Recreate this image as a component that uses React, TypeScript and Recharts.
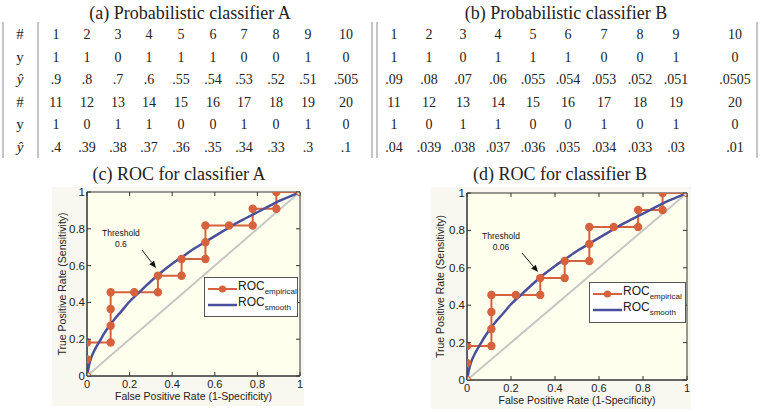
import React from 'react';
import { LineChart, Line, XAxis, YAxis, ReferenceArea, ReferenceLine, Legend, CartesianGrid } from 'recharts';

// ---------- table data ----------
const ids1 = ['1', '2', '3', '4', '5', '6', '7', '8', '9', '10'];
const ids2 = ['11', '12', '13', '14', '15', '16', '17', '18', '19', '20'];
const labels1 = ['1', '1', '0', '1', '1', '1', '0', '0', '1', '0'];
const labels2 = ['1', '0', '1', '1', '0', '0', '1', '0', '1', '0'];
const scoresA1 = ['.9', '.8', '.7', '.6', '.55', '.54', '.53', '.52', '.51', '.505'];
const scoresA2 = ['.4', '.39', '.38', '.37', '.36', '.35', '.34', '.33', '.3', '.1'];
const scoresB1 = ['.09', '.08', '.07', '.06', '.055', '.054', '.053', '.052', '.051', '.0505'];
const scoresB2 = ['.04', '.039', '.038', '.037', '.036', '.035', '.034', '.033', '.03', '.01'];
const rowHeads = ['#', 'y', 'ŷ', '#', 'y', 'ŷ'];

// ---------- ROC data ----------
const empFpr = [0, 0, 0, 0.111, 0.111, 0.111, 0.111, 0.222, 0.333, 0.333, 0.444, 0.444, 0.556, 0.556, 0.556, 0.667, 0.778, 0.778, 0.889, 0.889, 1];
const empTpr = [0, 0.091, 0.182, 0.182, 0.273, 0.364, 0.455, 0.455, 0.455, 0.545, 0.545, 0.636, 0.636, 0.727, 0.818, 0.818, 0.818, 0.909, 0.909, 1, 1];
const smoothFpr = [0, 0.01, 0.02, 0.04, 0.06, 0.08, 0.1, 0.13, 0.16, 0.2, 0.25, 0.3, 0.35, 0.4, 0.45, 0.5, 0.55, 0.6, 0.65, 0.7, 0.75, 0.8, 0.85, 0.9, 0.95, 1];
const smoothTpr = [0, 0.06, 0.1, 0.15, 0.19, 0.23, 0.265, 0.31, 0.35, 0.405, 0.46, 0.515, 0.565, 0.61, 0.65, 0.69, 0.725, 0.76, 0.795, 0.83, 0.86, 0.89, 0.92, 0.95, 0.975, 1];
const diagFpr = [0, 1];
const diagTpr = [0, 1];
const axisTicks = [0, 0.2, 0.4, 0.6, 0.8, 1];

const empData = empFpr.map((x, i) => ({ x, y: empTpr[i] }));
const smoothData = smoothFpr.map((x, i) => ({ x, y: smoothTpr[i] }));
const diagData = diagFpr.map((x, i) => ({ x, y: diagTpr[i] }));

const ORANGE = '#d6623d';
const BLUE = '#4a4f9c';
const GRAY = '#c6c6c6';
const SANS = 'Liberation Sans, Arial, sans-serif';
const SERIF = 'Liberation Serif, Times New Roman, serif';

// ---------- table layout ----------
const rowY = [34, 57, 79, 102, 124, 147];
const colA = [56, 87, 118, 149, 181, 213, 244, 276, 308, 346];
const colB = [394, 429, 463, 498, 533, 568, 604, 640, 676, 735];

function Tables() {
  const rowsA = [ids1, labels1, scoresA1, ids2, labels2, scoresA2];
  const rowsB = [ids1, labels1, scoresB1, ids2, labels2, scoresB2];
  return (
    <svg width={760} height={412} style={{ position: 'absolute', left: 0, top: 0 }}>
      <rect x={0} y={0} width={760} height={412} fill="#ffffff" />
      <rect x={52} y={187} width={252} height={219} fill="#f8f8f0" />
      <rect x={431} y={187} width={260} height={222} fill="#f8f8f0" />
      <text x={190} y={19} textAnchor="middle" fontFamily={SERIF} fontSize={18} fill="#222">(a) Probabilistic classifier A</text>
      <text x={566} y={19} textAnchor="middle" fontFamily={SERIF} fontSize={18} fill="#222">(b) Probabilistic classifier B</text>
      <text x={179} y={180} textAnchor="middle" fontFamily={SERIF} fontSize={18} fill="#222">(c) ROC for classifier A</text>
      <text x={560} y={180} textAnchor="middle" fontFamily={SERIF} fontSize={18} fill="#222">(d) ROC for classifier B</text>
      {[3, 38, 372, 377, 757].map((x) => (
        <line key={x} x1={x} y1={22} x2={x} y2={158} stroke="#8a8a8a" strokeWidth={1} />
      ))}
      {rowHeads.map((h, r) => (
        <text key={'h' + r} x={20} y={rowY[r]} dominantBaseline="central" textAnchor="middle"
          fontFamily={SERIF} fontSize={15} fontStyle={h === 'ŷ' ? 'italic' : 'normal'} fill="#222">{h}</text>
      ))}
      {rowsA.map((row, r) => row.map((v, c) => (
        <text key={'a' + r + '-' + c} x={colA[c]} y={rowY[r]} dominantBaseline="central" textAnchor="middle"
          fontFamily={SERIF} fontSize={14} fill="#222">{v}</text>
      )))}
      {rowsB.map((row, r) => row.map((v, c) => (
        <text key={'b' + r + '-' + c} x={colB[c]} y={rowY[r]} dominantBaseline="central" textAnchor="middle"
          fontFamily={SERIF} fontSize={14} fill="#222">{v}</text>
      )))}
    </svg>
  );
}

const fmt = (v: number) => String(v);

const makeXTick = (plotH: number) => (props: any) => {
  const { x, y, payload } = props;
  return (
    <g>
      <line x1={x} y1={y} x2={x} y2={y - 4} stroke="#333" />
      <line x1={x} y1={y - plotH} x2={x} y2={y - plotH + 4} stroke="#333" />
      <text x={x} y={y + 12} textAnchor="middle" fontSize={11} fill="#222" fontFamily={SANS}>{fmt(payload.value)}</text>
    </g>
  );
};

const makeYTick = (plotW: number) => (props: any) => {
  const { x, y, payload } = props;
  return (
    <g>
      <line x1={x} y1={y} x2={x + 4} y2={y} stroke="#333" />
      <line x1={x + plotW} y1={y} x2={x + plotW - 4} y2={y} stroke="#333" />
      <text x={x - 2} y={y + 4} textAnchor="end" fontSize={11.5} fill="#222" fontFamily={SANS}>{fmt(payload.value)}</text>
    </g>
  );
};

const makeArrow = (label2: string) => (p: any) => {
  const { x1, y1, x2, y2 } = p;
  const ang = Math.atan2(y2 - y1, x2 - x1);
  const L = 7, W = 3;
  const bx = x2 - L * Math.cos(ang), by = y2 - L * Math.sin(ang);
  const pts = `${x2},${y2} ${bx - W * Math.sin(ang)},${by + W * Math.cos(ang)} ${bx + W * Math.sin(ang)},${by - W * Math.cos(ang)}`;
  return (
    <g>
      <line x1={x1} y1={y1} x2={bx} y2={by} stroke="#111" strokeWidth={1} />
      <polygon points={pts} fill="#111" />
      <text x={x1 - 21} y={y1 - 14} textAnchor="middle" fontSize={8.5} fontFamily={SANS} fill="#111">Threshold</text>
      <text x={x1 - 21} y={y1 - 3} textAnchor="middle" fontSize={8.5} fontFamily={SANS} fill="#111">{label2}</text>
    </g>
  );
};

const empDot = (props: any) => {
  const { cx, cy, index } = props;
  const hollow = index === 0 || index === empData.length - 1;
  return (
    <circle key={'dot' + index} cx={cx} cy={cy} r={3.6}
      fill={hollow ? '#fbece6' : ORANGE} stroke={ORANGE} strokeWidth={1.2} />
  );
};

const legendContent = (w: number, h: number) => () => (
  <div style={{ width: w, height: h, boxSizing: 'border-box', border: '1px solid #555', background: '#ffffff', fontFamily: SANS, color: '#222', paddingTop: 3 }}>
    <div style={{ display: 'flex', alignItems: 'center', height: 16 }}>
      <svg width={31} height={12} style={{ marginLeft: 2 }}>
        <line x1={1} y1={6} x2={30} y2={6} stroke={ORANGE} strokeWidth={2} />
        <circle cx={15.5} cy={6} r={3.6} fill={ORANGE} />
      </svg>
      <span style={{ fontSize: 12, lineHeight: '12px' }}>ROC<sub style={{ fontSize: 8, verticalAlign: -4 }}>empirical</sub></span>
    </div>
    <div style={{ display: 'flex', alignItems: 'center', height: 16 }}>
      <svg width={31} height={12} style={{ marginLeft: 2 }}>
        <line x1={1} y1={6} x2={30} y2={6} stroke={BLUE} strokeWidth={2.5} />
      </svg>
      <span style={{ fontSize: 12, lineHeight: '12px' }}>ROC<sub style={{ fontSize: 8, verticalAlign: -4 }}>smooth</sub></span>
    </div>
  </div>
);

type Cfg = {
  left: number; top: number; width: number; height: number;
  margin: { top: number; right: number; left: number; bottom: number };
  xAxisH: number; yLabelX: number; xLabelDy: number;
  legend: { left: number; top: number; w: number; h: number };
  arrow: { x1: number; y1: number; x2: number; y2: number }; thr: string;
};

function RocChart({ cfg }: { cfg: Cfg }) {
  const plotW = cfg.width - cfg.margin.left - cfg.margin.right - 40;
  const plotH = cfg.height - cfg.margin.top - cfg.margin.bottom - cfg.xAxisH;
  return (
    <div style={{ position: 'absolute', left: cfg.left, top: cfg.top }}>
      <LineChart width={cfg.width} height={cfg.height} margin={cfg.margin}>
        <CartesianGrid horizontal={false} vertical={false} fill="#ffffee" stroke="none" />
        <XAxis type="number" dataKey="x" domain={[0, 1]} ticks={axisTicks} allowDataOverflow
          height={cfg.xAxisH} tickSize={0} tickMargin={0} tickLine={false}
          axisLine={{ stroke: '#333' }} tick={makeXTick(plotH)} interval={0}
          label={{
            content: (p: any) => {
              const vb = p.viewBox;
              return <text x={vb.x + vb.width / 2} y={vb.y + cfg.xLabelDy} textAnchor="middle" fontSize={10.5} fontFamily={SANS} fill="#222">False Positive Rate (1-Specificity)</text>;
            },
          }} />
        <YAxis type="number" dataKey="y" domain={[0, 1]} ticks={axisTicks} allowDataOverflow
          width={40} tickSize={0} tickMargin={0} tickLine={false}
          axisLine={{ stroke: '#333' }} tick={makeYTick(plotW)} interval={0}
          label={{
            content: (p: any) => {
              const vb = p.viewBox;
              const cx = cfg.yLabelX;
              const cy = vb.y + vb.height / 2;
              return <text x={cx} y={cy} transform={`rotate(-90 ${cx} ${cy})`} textAnchor="middle" dominantBaseline="central" fontSize={10.5} fontFamily={SANS} fill="#222">True Positive Rate (Sensitivity)</text>;
            },
          }} />
        <Line data={diagData} dataKey="y" type="linear" stroke={GRAY} strokeWidth={2} dot={false} activeDot={false} isAnimationActive={false} />
        <Line data={empData} dataKey="y" type="linear" stroke={ORANGE} strokeWidth={2} dot={empDot} activeDot={false} isAnimationActive={false} />
        <Line data={smoothData} dataKey="y" type="monotone" stroke={BLUE} strokeWidth={2.5} dot={false} activeDot={false} isAnimationActive={false} />
        <ReferenceArea x1={0} x2={1} y1={0} y2={1} fill="none" stroke="#333" strokeWidth={1} ifOverflow="visible" />
        <ReferenceLine segment={[{ x: cfg.arrow.x1, y: cfg.arrow.y1 }, { x: cfg.arrow.x2, y: cfg.arrow.y2 }]}
          shape={makeArrow(cfg.thr)} ifOverflow="visible" />
        <Legend content={legendContent(cfg.legend.w, cfg.legend.h)} layout="horizontal" verticalAlign="middle" align="center"
          wrapperStyle={{ left: cfg.legend.left, top: cfg.legend.top, width: cfg.legend.w, height: cfg.legend.h, bottom: 'auto', right: 'auto' }} />
      </LineChart>
    </div>
  );
}

const cfgC: Cfg = {
  left: 0, top: 180, width: 320, height: 232,
  margin: { top: 12, right: 20, left: 47, bottom: 0 },
  xAxisH: 36, yLabelX: 62, xLabelDy: 24,
  legend: { left: 204, top: 97, w: 94, h: 40 },
  arrow: { x1: 0.258, y1: 0.685, x2: 0.324, y2: 0.587 }, thr: '0.6',
};

const cfgD: Cfg = {
  left: 380, top: 180, width: 330, height: 232,
  margin: { top: 13, right: 23, left: 47, bottom: 0 },
  xAxisH: 32, yLabelX: 60, xLabelDy: 24,
  legend: { left: 209, top: 102, w: 97, h: 41 },
  arrow: { x1: 0.25, y1: 0.679, x2: 0.323, y2: 0.578 }, thr: '0.06',
};

export default function App() {
  return (
    <div style={{ position: 'absolute', left: 0, top: 0, width: 760, height: 412, overflow: 'hidden', background: '#fff' }}>
      <Tables />
      <RocChart cfg={cfgC} />
      <RocChart cfg={cfgD} />
    </div>
  );
}
